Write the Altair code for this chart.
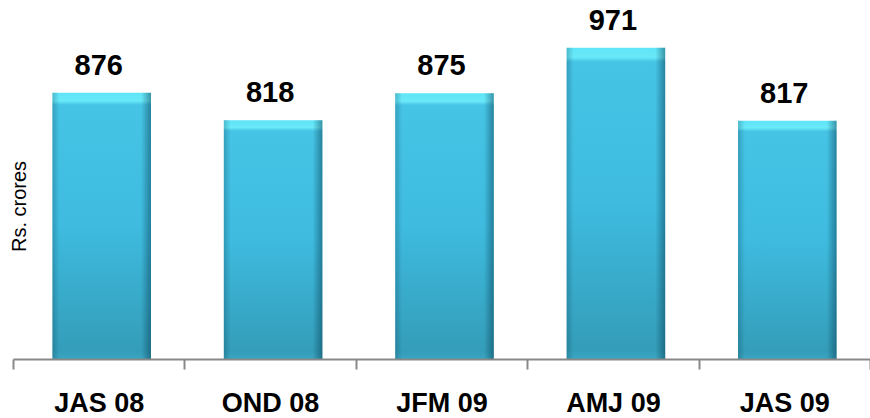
import altair as alt
import pandas as pd

categories = ["JAS 08", "OND 08", "JFM 09", "AMJ 09", "JAS 09"]
values = [876, 818, 875, 971, 817]
y_min = 314

df = pd.DataFrame({"period": categories, "value": values})

FONT = "Liberation Sans"

x_enc = alt.X(
    "period:N",
    sort=categories,
    scale=alt.Scale(paddingInner=0, paddingOuter=0),
    axis=alt.Axis(
        title=None,
        labelAngle=0,
        labelFont=FONT,
        labelFontSize=27,
        labelFontWeight="bold",
        labelColor="#000000",
        labelBaseline="alphabetic",
        labelPadding=42,
        domainColor="#888888",
        domainWidth=2,
        tickColor="#888888",
        tickWidth=2,
        tickSize=10,
        tickBand="extent",
        grid=False,
        zindex=1,
    ),
)

y_enc = alt.Y(
    "value:Q",
    scale=alt.Scale(domain=[y_min, 1072], zero=False, nice=False),
    axis=alt.Axis(
        title="Rs. crores",
        titleFont=FONT,
        titleFontSize=20,
        titleFontWeight="normal",
        titleColor="#000000",
        titleAngle=-90,
        titleX=12,
        titleY=206,
        titleAlign="center",
        titleBaseline="alphabetic",
        labels=False,
        ticks=False,
        domain=False,
        grid=False,
    ),
)

base = alt.Chart(df).encode(x=x_enc, y=y_enc, y2=alt.datum(y_min))

vgrad = alt.Gradient(
    gradient="linear",
    x1=0, y1=0, x2=0, y2=1,
    stops=[
        alt.GradientStop(color="#5fe4f7", offset=0),
        alt.GradientStop(color="#6ae9f9", offset=0.03),
        alt.GradientStop(color="#46c4e5", offset=0.045),
        alt.GradientStop(color="#3ebbdf", offset=0.5),
        alt.GradientStop(color="#349db9", offset=0.97),
        alt.GradientStop(color="#3aa6c2", offset=1),
    ],
)

hgrad = alt.Gradient(
    gradient="linear",
    x1=0, y1=0, x2=1, y2=0,
    stops=[
        alt.GradientStop(color="rgba(0,50,70,0.25)", offset=0),
        alt.GradientStop(color="rgba(0,50,70,0.0)", offset=0.07),
        alt.GradientStop(color="rgba(0,50,70,0.0)", offset=0.9),
        alt.GradientStop(color="rgba(0,50,70,0.45)", offset=1),
    ],
)

bar_w = alt.RelativeBandSize(0.575)
bars = base.mark_bar(fill=vgrad, width=bar_w, xOffset=3)
shade = base.mark_bar(fill=hgrad, width=bar_w, xOffset=3)

labels = alt.Chart(df).mark_text(
    font=FONT,
    fontSize=29,
    fontWeight="bold",
    color="#000000",
    baseline="alphabetic",
    dy=-18,
).encode(x=x_enc, y=y_enc, text=alt.Text("value:Q"))

chart = (
    alt.layer(bars, shade, labels)
    .properties(
        width=857,
        height=359,
        padding={"left": 13, "top": 0, "right": 0, "bottom": 59},
        autosize=alt.AutoSizeParams(type="none"),
        background="#ffffff",
    )
    .configure_view(stroke=None)
)

chart.save("out.html", embed_options={"renderer": "svg", "actions": False})
